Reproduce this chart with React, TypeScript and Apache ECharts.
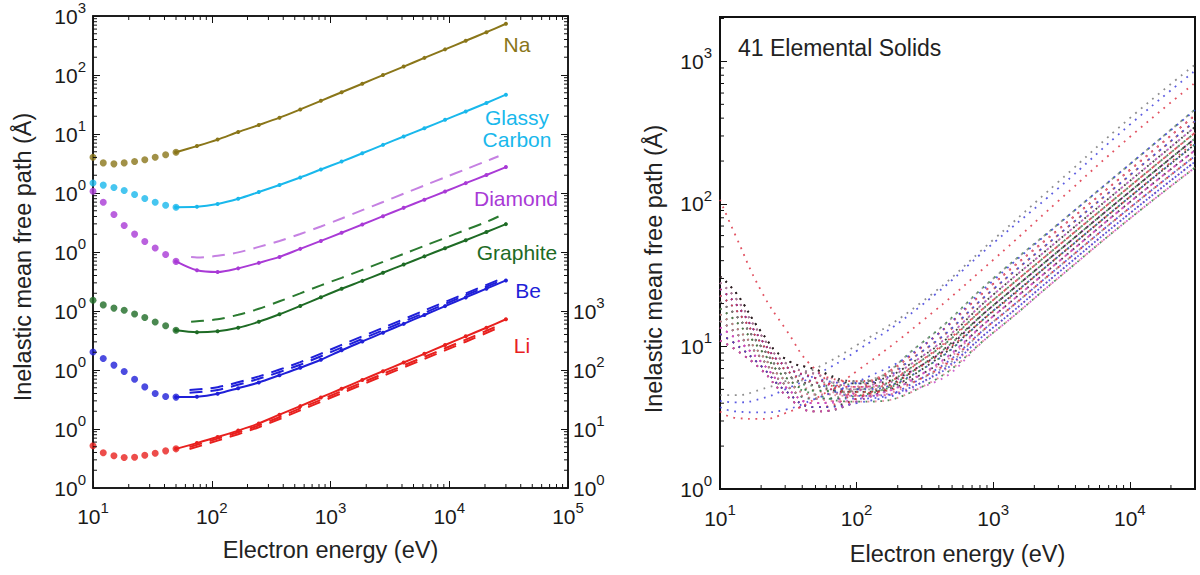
import React, { useEffect, useRef } from 'react';
import * as echarts from 'echarts';

const FONT = '"Liberation Sans", Arial, Helvetica, sans-serif';
const INK = '#1a1a1a';

// ---------------- Left panel data (IMFP in Å, each curve shifted up by `offset` decades) ----------------
const dotEnergies = [10, 12.2, 15, 18.3, 22.4, 27.3, 33.4, 40.9, 50];
const lineEnergies = [50, 75, 112, 167, 249, 372, 556, 830, 1240, 1853, 2767, 4133, 6173, 9220, 13771, 20568, 30000];
const dashEnergies = [67, 75, 112, 167, 249, 372, 556, 830, 1240, 1853, 2767, 4133, 6173, 9220, 13771, 20568, 26000];
const pairDashEnergies = [65, 112, 249, 556, 1240, 2767, 6173, 13771, 26000];

const liDots = [5.2, 3.96, 3.51, 3.28, 3.32, 3.59, 3.87, 4.26, 4.61];
const liLine = [4.61, 5.77, 7.3, 9.4, 12.4, 17.5, 24.4, 34.3, 48.1, 67.9, 95.6, 134, 188, 265, 372, 521, 724];
const liDashA = [4.95, 6.86, 11.5, 22.4, 43.8, 86, 167, 327, 566];
const liDashB = [4.58, 6.35, 10.7, 20.7, 40.4, 79.4, 154, 301, 520];

const beDots = [20.2, 15.7, 12.1, 9.46, 6.98, 5.17, 4.0, 3.56, 3.47];
const beLine = [3.47, 3.53, 3.97, 4.92, 6.14, 8.16, 10.9, 14.9, 21.6, 30.5, 42.9, 60.5, 85.5, 121, 170, 239, 330];
const beDashA = [4.6, 5.1, 7.8, 13.6, 26.6, 51.9, 102, 199, 336];
const beDashB = [4.1, 4.6, 7.1, 12.3, 24.0, 47.2, 93, 185, 313];

const graphiteDots = [15.2, 12.7, 11.2, 10.3, 8.9, 7.76, 6.51, 5.62, 4.71];
const graphiteLine = [4.71, 4.36, 4.54, 5.2, 6.56, 8.79, 12.2, 17.1, 23.8, 32.4, 44.5, 61.2, 84.3, 116, 158, 218, 297];
const graphiteDash = [6.56, 6.7, 7.24, 8.63, 10.9, 14.6, 19.9, 27.2, 36.5, 49.8, 67.9, 92.9, 127, 173, 237, 323, 400];

const diamondDots = [107, 69.9, 43.3, 28.2, 20.1, 15.1, 11.7, 9.1, 6.93];
const diamondLine = [6.93, 4.89, 4.57, 5.28, 6.54, 8.26, 11.3, 15.4, 21.2, 29.3, 40.5, 56.0, 77.1, 106, 147, 202, 275];
const diamondDash = [8.2, 8.1, 8.6, 9.85, 12.2, 15.4, 20.2, 27.1, 37.0, 51.2, 70.4, 97.3, 134, 184, 253, 348, 419];

const glassyDots = [14.8, 13.6, 12.4, 11.0, 9.43, 8.07, 6.99, 6.22, 5.75];
const glassyLine = [5.75, 5.84, 6.52, 7.98, 10.4, 13.7, 18.3, 25.0, 34.1, 47.1, 65.4, 90.7, 125, 174, 241, 335, 464];

const naDots = [4.04, 3.24, 3.12, 3.24, 3.41, 3.65, 4.04, 4.44, 4.91];
const naLine = [4.91, 6.24, 8.04, 10.8, 14.2, 18.9, 26.1, 36.5, 51, 71, 99.6, 139, 195, 272, 380, 532, 738];

const offsets = { li: 0, be: 1, graphite: 2, diamond: 3, glassy: 4, na: 5 };

const colors = {
  li: '#e8201e',
  be: '#1f1fd8',
  graphite: '#1e6b25',
  graphiteDash: '#2a7a30',
  diamond: '#a93ad6',
  diamondDash: '#c580e2',
  glassy: '#19b8ec',
  na: '#8a7619',
};

// tick label exponents (index = decade from the axis minimum)
const leftXExp = ['1', '2', '3', '4', '5'];
const leftYExp = ['0', '0', '0', '0', '0', '0', '1', '2', '3'];
const leftY2Exp = ['0', '1', '2', '3'];
const rightXExp = ['1', '2', '3', '4'];
const rightYExp = ['0', '1', '2', '3'];

// ---------------- Right panel data: 41 elemental solids ----------------
const solidEnergies = [10, 13, 20, 30, 50, 100, 300, 1000, 3000, 10000, 30000];
const solidsUpper = [
  [4.55, 4.55, 5.0, 5.7, 7.0, 10.2, 20.5, 56, 143, 400, 950],
  [4.15, 4.05, 4.3, 5.0, 6.3, 9.3, 19.5, 53, 129, 360, 860],
  [3.5, 3.15, 3.1, 3.4, 4.3, 6.7, 15, 40.5, 105, 295, 708],
  [3.75, 3.5, 3.45, 3.6, 4.3, 5.6, 10, 29, 72, 190, 455],
  [107, 60, 24.6, 13.4, 6.9, 4.6, 7.3, 17.6, 43, 112, 275],
];
const solidsUpperColors = ['#7a7a7a', '#4040dd', '#dd3344', '#4040dd', '#dd3344'];
const solidsBand = [
  [28, 21.9, 12, 7.7, 6.4, 5.7, 9.2, 25.2, 60.7, 159, 381],
  [15.1, 12.5, 8.3, 5.4, 4.3, 4.3, 6.0, 14.9, 36.0, 94, 217],
  [20.5, 16.6, 10, 6.5, 5.3, 5.5, 10.6, 30, 72.4, 190, 460],
  [12.2, 10.4, 7.3, 4.9, 3.75, 4.3, 7.4, 19.4, 46.7, 122, 288],
  [25.3, 20, 11.2, 7.3, 6.0, 4.5, 5.2, 12.5, 30.3, 79, 180],
  [16.8, 13.7, 8.8, 5.8, 4.6, 5.0, 8.5, 23.1, 55.6, 145, 347],
  [31, 24, 12.7, 8.2, 6.9, 5.2, 6.4, 16.3, 39.3, 103, 238],
  [13.6, 11.4, 7.8, 5.2, 4.0, 5.0, 9.9, 27.5, 66.2, 173, 419],
  [22.8, 18.2, 10.6, 6.9, 5.6, 4.5, 5.6, 13.6, 33.0, 86, 198],
  [18.5, 15.1, 9.4, 6.1, 4.9, 5.0, 8.0, 21.2, 51.0, 133, 316],
  [11, 9.5, 6.9, 4.6, 3.5, 4.1, 6.9, 17.8, 42.8, 112, 262],
  [28, 21.9, 12, 7.7, 6.4, 5.2, 7.4, 19.4, 46.7, 122, 288],
  [15.1, 12.5, 8.3, 5.4, 4.3, 5.0, 9.2, 25.2, 60.7, 159, 381],
  [20.5, 16.6, 10, 6.5, 5.3, 4.5, 5.6, 13.6, 33.0, 86, 198],
  [12.2, 10.4, 7.3, 4.9, 3.75, 4.8, 9.9, 27.5, 66.2, 173, 419],
  [25.3, 20, 11.2, 7.3, 6.0, 5.0, 6.9, 17.8, 42.8, 112, 262],
  [16.8, 13.7, 8.8, 5.8, 4.6, 4.1, 5.2, 12.5, 30.3, 79, 180],
  [31, 24, 12.7, 8.2, 6.9, 5.7, 8.5, 23.1, 55.6, 145, 347],
  [13.6, 11.4, 7.8, 5.2, 4.0, 4.3, 6.4, 16.3, 39.3, 103, 238],
  [22.8, 18.2, 10.6, 6.9, 5.6, 5.7, 10.6, 30, 72.4, 190, 460],
  [18.5, 15.1, 9.4, 6.1, 4.9, 4.5, 6.0, 14.9, 36.0, 94, 217],
  [11, 9.5, 6.9, 4.6, 3.5, 4.3, 8.0, 21.2, 51.0, 133, 316],
  [25.3, 20, 11.2, 7.3, 6.0, 5.5, 9.2, 25.2, 60.7, 159, 381],
  [15.1, 12.5, 8.3, 5.4, 4.3, 4.5, 7.4, 19.4, 46.7, 122, 288],
  [20.5, 16.6, 10, 6.5, 5.3, 4.8, 6.4, 16.3, 39.3, 103, 238],
  [13.6, 11.4, 7.8, 5.2, 4.0, 4.8, 8.5, 23.1, 55.6, 145, 347],
  [28, 21.9, 12, 7.7, 6.4, 5.0, 6.0, 14.9, 36.0, 94, 217],
  [16.8, 13.7, 8.8, 5.8, 4.6, 5.2, 9.9, 27.5, 66.2, 173, 419],
  [22.8, 18.2, 10.6, 6.9, 5.6, 5.2, 8.0, 21.2, 51.0, 133, 316],
  [12.2, 10.4, 7.3, 4.9, 3.75, 4.0, 5.6, 13.6, 33.0, 86, 198],
  [18.5, 15.1, 9.4, 6.1, 4.9, 4.8, 6.9, 17.8, 42.8, 112, 262],
  [31, 24, 12.7, 8.2, 6.9, 5.5, 7.4, 19.4, 46.7, 122, 288],
  [11, 9.5, 6.9, 4.6, 3.5, 4.1, 6.4, 16.3, 39.3, 103, 238],
  [20.5, 16.6, 10, 6.5, 5.3, 5.0, 8.0, 21.2, 51.0, 133, 316],
  [15.1, 12.5, 8.3, 5.4, 4.3, 4.1, 5.2, 12.5, 30.3, 79, 180],
  [25.3, 20, 11.2, 7.3, 6.0, 4.8, 6.0, 14.9, 36.0, 94, 217],
];
const bandColors = ['#d9323f', '#3f3fd9', '#2e7d3e', '#1e1e1e', '#c84cc8', '#8c8c8c', '#e07891'];

// ---------------- helpers ----------------
const shift = (energies: number[], vals: number[], off: number) =>
  vals.map((v, i) => [energies[i], v * Math.pow(10, off)]);

const isPow = (v: number) => Math.abs(Math.log10(v) - Math.round(Math.log10(v))) < 1e-6;
const supLabel = (exps: string[], minExp: number) => (v: number) => {
  if (!isPow(v)) return '';
  const e = exps[Math.round(Math.log10(v)) - minExp];
  return e == null ? '' : `{b|10}{s|${e}}`;
};
const rich = {
  b: { fontSize: 21, fontFamily: FONT, color: INK, lineHeight: 32 },
  s: { fontSize: 15, fontFamily: FONT, color: INK, lineHeight: 15, verticalAlign: 'top' },
};

// minor tick positions (2..9 × 10^e) for axis decoration
const minorTicks = (e0: number, e1: number, max: number) => {
  const out: number[] = [];
  for (let e = e0; e <= e1; e++) for (let m = 2; m <= 9; m++) { const v = m * Math.pow(10, e); if (v < max) out.push(v); }
  return out;
};

const tickSeries = (dir: 'x' | 'y', values: number[], base: number, xi: number, yi: number, mirror: boolean) => ({
  type: 'custom',
  xAxisIndex: xi,
  yAxisIndex: yi,
  silent: true,
  z: 10,
  data: values.map((v) => (dir === 'x' ? [v, base] : [base, v])),
  renderItem: (params: any, api: any) => {
    const cs = params.coordSys;
    const p = api.coord([api.value(0), api.value(1)]);
    const st = { stroke: '#111', lineWidth: 1 };
    const L = 4;
    const ch: any[] = [];
    if (dir === 'x') {
      const x = p[0];
      const yb = cs.y + cs.height;
      ch.push({ type: 'line', shape: { x1: x, y1: yb, x2: x, y2: yb - L }, style: st });
      if (mirror) ch.push({ type: 'line', shape: { x1: x, y1: cs.y, x2: x, y2: cs.y + L }, style: st });
    } else {
      const y = p[1];
      ch.push({ type: 'line', shape: { x1: cs.x, y1: y, x2: cs.x + L, y2: y }, style: st });
      if (mirror) ch.push({ type: 'line', shape: { x1: cs.x + cs.width, y1: y, x2: cs.x + cs.width - L, y2: y }, style: st });
    }
    return { type: 'group', children: ch };
  },
});

const dotSeries = (name: string, vals: number[], off: number, color: string) => ({
  name, type: 'scatter', xAxisIndex: 0, yAxisIndex: 0, clip: false, z: 4,
  symbol: 'circle', symbolSize: 7, itemStyle: { color },
  data: shift(dotEnergies, vals, off),
});
const solidSeries = (name: string, vals: number[], off: number, color: string) => ({
  name, type: 'line', xAxisIndex: 0, yAxisIndex: 0, z: 3, smooth: 0.3,
  symbol: 'circle', symbolSize: 4, showSymbol: true, itemStyle: { color },
  lineStyle: { color, width: 2 },
  data: shift(lineEnergies, vals, off),
});
const dashSeries = (name: string, en: number[], vals: number[], off: number, color: string) => ({
  name, type: 'line', xAxisIndex: 0, yAxisIndex: 0, z: 2, smooth: 0.3, showSymbol: false,
  lineStyle: { color, width: 2, type: [13, 8] },
  data: shift(en, vals, off),
});

const solidLine = (name: string, vals: number[], color: string) => ({
  name, type: 'line', xAxisIndex: 2, yAxisIndex: 2, showSymbol: false, smooth: 0.5,
  lineStyle: { color, width: 1.8, type: [1.8, 5.6], opacity: 0.85 },
  data: vals.map((v, i) => [solidEnergies[i], v]),
});

const axisLine = { show: true, lineStyle: { color: '#111', width: 1.5 } };
const majorTick = { show: true, inside: true, length: 7, lineStyle: { color: '#111', width: 1 } };

function buildOption() {
  const series: any[] = [
    // left panel
    dashSeries('Li TPP-2M a', pairDashEnergies, liDashA, offsets.li, colors.li),
    dashSeries('Li TPP-2M b', pairDashEnergies, liDashB, offsets.li, colors.li),
    dashSeries('Be TPP-2M a', pairDashEnergies, beDashA, offsets.be, colors.be),
    dashSeries('Be TPP-2M b', pairDashEnergies, beDashB, offsets.be, colors.be),
    dashSeries('Graphite TPP-2M', dashEnergies, graphiteDash, offsets.graphite, colors.graphiteDash),
    dashSeries('Diamond TPP-2M', dashEnergies, diamondDash, offsets.diamond, colors.diamondDash),
    solidSeries('Li', liLine, offsets.li, colors.li),
    solidSeries('Be', beLine, offsets.be, colors.be),
    solidSeries('Graphite', graphiteLine, offsets.graphite, colors.graphite),
    solidSeries('Diamond', diamondLine, offsets.diamond, colors.diamond),
    solidSeries('Glassy Carbon', glassyLine, offsets.glassy, colors.glassy),
    solidSeries('Na', naLine, offsets.na, colors.na),
    dotSeries('Li low', liDots, offsets.li, colors.li),
    dotSeries('Be low', beDots, offsets.be, colors.be),
    dotSeries('Graphite low', graphiteDots, offsets.graphite, colors.graphite),
    dotSeries('Diamond low', diamondDots, offsets.diamond, colors.diamond),
    dotSeries('Glassy low', glassyDots, offsets.glassy, colors.glassy),
    dotSeries('Na low', naDots, offsets.na, colors.na),
    tickSeries('x', minorTicks(1, 4, 1e5), 1, 0, 0, true),
    tickSeries('y', minorTicks(0, 7, 1e8), 10, 0, 0, true),
    // right panel
    ...solidsBand.map((r, i) => solidLine(`solid ${i + 1}`, r, bandColors[i % bandColors.length])),
    ...solidsUpper.map((r, i) => solidLine(`solid ${solidsBand.length + i + 1}`, r, solidsUpperColors[i])),
    tickSeries('x', minorTicks(1, 4, 30000), 1, 2, 2, false),
    tickSeries('y', minorTicks(0, 3, 2050), 10, 2, 2, false),
  ];

  const txt = (text: string, x: number, y: number, color: string, size = 21, align = 'center') => ({
    type: 'text', x, y, z: 20,
    style: { text, fill: color, fontSize: size, fontFamily: FONT, align, verticalAlign: 'middle', lineHeight: 22 },
  });

  return {
    animation: false,
    backgroundColor: '#fff',
    grid: [
      { left: 93, top: 15, width: 475, height: 473, show: true, borderColor: '#111', borderWidth: 1.5, containLabel: false },
      { left: 720, top: 17, width: 475, height: 472, show: true, borderColor: '#111', borderWidth: 2, containLabel: false },
    ],
    xAxis: [
      {
        type: 'log', gridIndex: 0, min: 10, max: 1e5, splitNumber: 10, position: 'bottom',
        axisLine, axisTick: majorTick, splitLine: { show: false },
        axisLabel: { formatter: supLabel(leftXExp, 1), rich, margin: 12 },
        name: 'Electron energy (eV)', nameLocation: 'middle', nameGap: 50,
        nameTextStyle: { fontSize: 23.5, fontFamily: FONT, color: '#222' },
      },
      {
        type: 'log', gridIndex: 0, min: 10, max: 1e5, splitNumber: 10, position: 'top',
        axisLine, axisTick: majorTick, splitLine: { show: false }, axisLabel: { show: false },
      },
      {
        type: 'log', gridIndex: 1, min: 10, max: 30000, splitNumber: 10, position: 'bottom',
        axisLine: { show: true, lineStyle: { color: '#111', width: 2 } }, axisTick: majorTick, splitLine: { show: false },
        axisLabel: { formatter: supLabel(rightXExp, 1), rich, margin: 13 },
        name: 'Electron energy (eV)', nameLocation: 'middle', nameGap: 53,
        nameTextStyle: { fontSize: 23.5, fontFamily: FONT, color: '#222' },
      },
    ],
    yAxis: [
      {
        type: 'log', gridIndex: 0, min: 1, max: 1e8, splitNumber: 10, position: 'left',
        axisLine, axisTick: majorTick, splitLine: { show: false },
        axisLabel: { formatter: supLabel(leftYExp, 0), rich, margin: 7 },
      },
      {
        type: 'log', gridIndex: 0, min: 1, max: 1e8, splitNumber: 10, position: 'right',
        axisLine, axisTick: majorTick, splitLine: { show: false },
        axisLabel: { formatter: supLabel(leftY2Exp, 0), rich, margin: 5 },
      },
      {
        type: 'log', gridIndex: 1, min: 1, max: 2050, splitNumber: 10, position: 'left',
        axisLine: { show: true, lineStyle: { color: '#111', width: 2 } }, axisTick: majorTick, splitLine: { show: false },
        axisLabel: { formatter: supLabel(rightYExp, 0), rich, margin: 8 },
      },
    ],
    graphic: [
      { type: 'text', x: 22.5, y: 257, rotation: Math.PI / 2, style: { text: 'Inelastic mean free path (Å)', fill: '#222', fontSize: 23.5, fontFamily: FONT, align: 'center', verticalAlign: 'middle' } },
      { type: 'text', x: 654, y: 269, rotation: Math.PI / 2, style: { text: 'Inelastic mean free path (Å)', fill: '#222', fontSize: 23.5, fontFamily: FONT, align: 'center', verticalAlign: 'middle' } },
      txt('Na', 517, 44, colors.na),
      txt('Glassy\nCarbon', 517, 128, colors.glassy),
      txt('Diamond', 516, 198, colors.diamond),
      txt('Graphite', 517, 252, colors.graphite),
      txt('Be', 528, 290, colors.be),
      txt('Li', 522, 345, colors.li),
      txt('41 Elemental Solids', 738, 47.5, '#222', 23, 'left'),
    ],
    series,
  };
}

export default function App() {
  const ref = useRef<HTMLDivElement>(null);
  useEffect(() => {
    if (!ref.current) return;
    const chart = echarts.init(ref.current, null, { renderer: 'svg' });
    chart.setOption(buildOption() as any);
    return () => chart.dispose();
  }, []);
  return (
    <div
      ref={ref}
      style={{ position: 'absolute', left: 0, top: 0, width: 1200, height: 575, background: '#fff' }}
    />
  );
}
